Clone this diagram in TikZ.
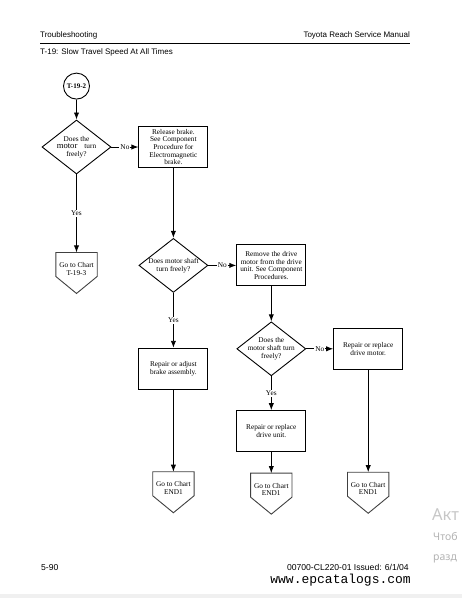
\documentclass[tikz,border=0pt]{standalone}
\usepackage{fontspec}
\newfontfamily\headfont{Liberation Sans}
\newfontfamily\chartfont{Liberation Serif}
\newfontfamily\sitefont{Liberation Mono}
\newfontfamily\winfont{Noto Sans}
\usetikzlibrary{arrows.meta,positioning,shapes}

\begin{document}
\begin{tikzpicture}[x=1pt,y=-1pt,>=Latex,
  chart/.style={font=\chartfont\fontsize{7.3}{7.7}\selectfont,align=center},
  box/.style={chart,draw,line width=0.9pt,minimum width=69pt,minimum height=41pt,inner sep=1pt},
  ask/.style={chart,draw,diamond,line width=0.9pt,minimum width=69pt,minimum height=54pt,inner sep=-8pt},
  goto/.style={chart,minimum width=41pt,minimum height=32pt,inner sep=0pt},
  arr/.style={->,line width=0.9pt},
  lbl/.style={fill=white,inner sep=1pt,font=\chartfont\fontsize{7.3}{7.7}\selectfont}]
\useasboundingbox (0,0) rectangle (462,598);
\fill[black!6] (0,594) rectangle (462,598);

% page header
\node[anchor=base west,inner sep=0pt,font=\headfont\fontsize{8}{9}\selectfont] (hleft) at (40,37.7) {Troubleshooting};
\node[anchor=base east,inner sep=0pt,font=\headfont\fontsize{8}{9}\selectfont] (hright) at (410,37.7) {Toyota Reach Service Manual};
\draw[line width=0.9pt] (40,43.3) -- (410,43.3);
\node[anchor=base west,inner sep=0pt,font=\headfont\fontsize{8}{9}\selectfont] (title) at (40,54.7) {T-19: Slow Travel Speed At All Times};

% chart
\node[ask] (d1) at (76.5,147) {Does the\\{\fontsize{8.6}{7.7}\selectfont motor}\hspace{7pt}turn\\freely?};
\node[draw,circle,line width=0.9pt,minimum size=26pt,inner sep=0pt,above=20pt of d1,font=\chartfont\fontsize{7}{7.7}\selectfont\bfseries] (t192) {T-19-2};
\node[box,right=27pt of d1] (brake) {Release brake.\\See Component\\Procedure for\\Electromagnetic\\brake.};
\node[goto,below=78pt of d1] (g1) {Go to Chart\\T-19-3};
\node[ask,below=70pt of brake] (d2) {Does motor shaft\\turn freely?};
\node[box,right=28pt of d2] (remove) {Remove the drive\\motor from the drive\\unit. See Component\\Procedures.};
\node[box,below=55pt of d2] (adjust) {Repair or adjust\\brake assembly.};
\node[ask,below=35pt of remove] (d3) {Does the\\motor shaft turn\\freely?};
\node[box,right=27pt of d3] (rmotor) {Repair or replace\\drive motor.};
\node[box,below=34pt of d3] (runit) {Repair or replace\\drive unit.};
\node[goto,below=82pt of adjust] (g2) {Go to Chart\\END1};
\node[goto,below=21pt of runit] (g3) {Go to Chart\\END1};
\node[goto,below=102.5pt of rmotor] (g4) {Go to Chart\\END1};
\foreach \g in {g1,g2,g3,g4}
  \draw[line width=0.9pt,black!75] (\g.north west) -- (\g.north east) -- ([yshift=-24pt]\g.north east)
    -- ([yshift=-41pt]\g.north) -- ([yshift=-24pt]\g.north west) -- cycle;

\draw[arr] (t192) -- (d1);
\draw[arr] (d1) -- node[lbl] {No} (brake);
\draw[arr] (d1) -- node[lbl] {Yes} (g1);
\draw[arr] (brake) -- (d2);
\draw[arr] (d2) -- node[lbl] {No} (remove);
\draw[arr] (d2) -- node[lbl] {Yes} (adjust);
\draw[arr] (remove) -- (d3);
\draw[arr] (d3) -- node[lbl] {No} (rmotor);
\draw[arr] (d3) -- node[lbl] {Yes} (runit);
\draw[arr] (adjust) -- (g2);
\draw[arr] (runit) -- (g3);
\draw[arr] (rmotor) -- (g4);

% page footer
\node[anchor=base west,inner sep=0pt,font=\headfont\fontsize{8.6}{9}\selectfont] (page) at (41,570.5) {5-90};
\node[anchor=base east,inner sep=0pt,font=\headfont\fontsize{8.6}{9}\selectfont] (issue) at (409,570.5) {00700-CL220-01 Issued: 6/1/04};
\node[anchor=base east,inner sep=0pt,font=\sitefont\fontsize{13}{14}\selectfont] (site) at (411,583) {www.epcatalogs.com};

% screen overlay at the right edge
\node[anchor=base west,inner sep=0pt,text=black!22,font=\winfont\fontsize{16.5}{18}\selectfont] (wm1) at (432,520) {Акт};
\node[anchor=base west,inner sep=0pt,text=black!30,font=\winfont\fontsize{10.5}{12}\selectfont] (wm2) at (433,540) {Чтоб};
\node[anchor=base west,inner sep=0pt,text=black!30,font=\winfont\fontsize{10.5}{12}\selectfont] (wm3) at (433,560) {разд};
\end{tikzpicture}
\end{document}
